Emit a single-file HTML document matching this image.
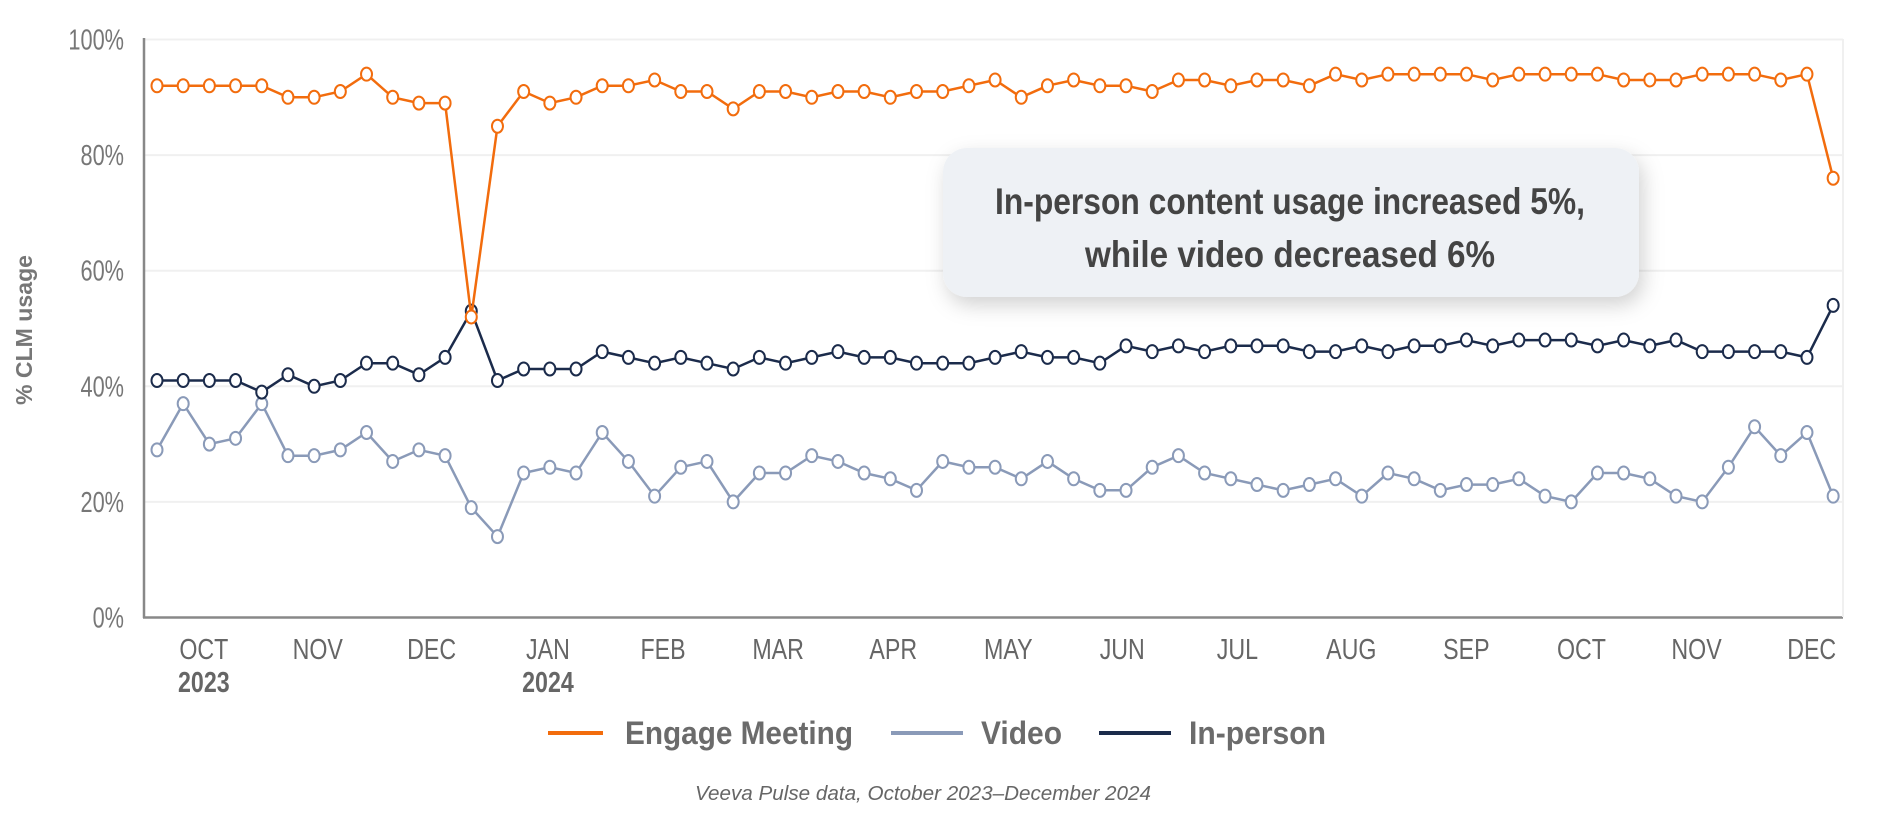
<!DOCTYPE html>
<html><head><meta charset="utf-8"><style>
html,body{margin:0;padding:0;background:#fff;width:1880px;height:817px;overflow:hidden}
svg text{font-family:"Liberation Sans Narrow","Liberation Sans",sans-serif}
</style></head><body>
<svg id="s" width="1880" height="817" viewBox="0 0 1880 817" xmlns="http://www.w3.org/2000/svg">
<defs><filter id="sh" x="-20%" y="-30%" width="140%" height="170%"><feDropShadow dx="4" dy="8" stdDeviation="10" flood-color="#000" flood-opacity="0.18"/></filter></defs>
<g id="grid"></g>
<line x1="144" y1="38" x2="144" y2="618" stroke="#888" stroke-width="2.5"/>
<line x1="143" y1="617.5" x2="1843" y2="617.5" stroke="#888" stroke-width="2.5"/>
<line x1="1843" y1="39" x2="1843" y2="617" stroke="#f0f0f0" stroke-width="2"/>
<g id="series"></g>
<rect x="943" y="148" width="696" height="149" rx="24" fill="#eef1f5" filter="url(#sh)"/>
<text x="1290" y="214" text-anchor="middle" font-size="37" font-weight="bold" fill="#444" textLength="590" lengthAdjust="spacingAndGlyphs">In-person content usage increased 5%,</text>
<text x="1290" y="267" text-anchor="middle" font-size="37" font-weight="bold" fill="#444" textLength="410" lengthAdjust="spacingAndGlyphs">while video decreased 6%</text>
<text transform="translate(32,330) rotate(-90)" text-anchor="middle" font-size="23" font-weight="bold" fill="#777" textLength="150" lengthAdjust="spacingAndGlyphs">% CLM usage</text>
<g id="lab"></g>
<line x1="548" y1="733" x2="603" y2="733" stroke="#f26c0d" stroke-width="4"/>
<text x="625" y="744" font-size="32" font-weight="bold" fill="#6b6b6b" textLength="228" lengthAdjust="spacingAndGlyphs">Engage Meeting</text>
<line x1="891" y1="733" x2="963" y2="733" stroke="#8a9ab8" stroke-width="4"/>
<text x="981" y="744" font-size="32" font-weight="bold" fill="#6b6b6b" textLength="81" lengthAdjust="spacingAndGlyphs">Video</text>
<line x1="1099" y1="733" x2="1171" y2="733" stroke="#1b2b4b" stroke-width="4"/>
<text x="1189" y="744" font-size="32" font-weight="bold" fill="#6b6b6b" textLength="137" lengthAdjust="spacingAndGlyphs">In-person</text>
<text x="923" y="800" text-anchor="middle" font-size="20" font-style="italic" fill="#666" textLength="456" lengthAdjust="spacingAndGlyphs">Veeva Pulse data, October 2023–December 2024</text>
</svg>
<script>
var NS="http://www.w3.org/2000/svg";
function el(p,t,a,txt){var e=document.createElementNS(NS,t);for(var k in a)e.setAttribute(k,a[k]);if(txt)e.textContent=txt;p.appendChild(e);return e;}
function cond(e,f){var w=e.getComputedTextLength();e.setAttribute('textLength',(w*f).toFixed(1));e.setAttribute('lengthAdjust','spacingAndGlyphs');}
var Y=function(v){return 617.5-v*5.78;};
var g=document.getElementById('grid'),lab=document.getElementById('lab');
for(var i=1;i<=5;i++){el(g,'line',{x1:145,x2:1843,y1:Y(i*20),y2:Y(i*20),stroke:'#f0f0f0','stroke-width':2});}
for(var i=0;i<=5;i++){var t=el(lab,'text',{x:124,y:Y(i*20)+10,'text-anchor':'end','font-size':29,fill:'#777'},(i*20)+'%');cond(t,0.75);}
var months=[['OCT',170],['NOV',265],['DEC',360],['JAN',457],['FEB',553],['MAR',649],['APR',745],['MAY',841],['JUN',936],['JUL',1032],['AUG',1127],['SEP',1223],['OCT',1319],['NOV',1415],['DEC',1511]];
months.forEach(function(m){var t=el(lab,'text',{x:m[1]*1.199,y:659,'text-anchor':'middle','font-size':29,fill:'#666'},m[0]);cond(t,0.8);});
var a=el(lab,'text',{x:170*1.199,y:692,'text-anchor':'middle','font-size':29,'font-weight':'bold',fill:'#666'},'2023');cond(a,0.8);
var b=el(lab,'text',{x:457*1.199,y:692,'text-anchor':'middle','font-size':29,'font-weight':'bold',fill:'#666'},'2024');cond(b,0.8);
var eng=[92,92,92,92,92,90,90,91,94,90,89,89,52,85,91,89,90,92,92,93,91,91,88,91,91,90,91,91,90,91,91,92,93,90,92,93,92,92,91,93,93,92,93,93,92,94,93,94,94,94,94,93,94,94,94,94,93,93,93,94,94,94,93,94,76];
var vid=[29,37,30,31,37,28,28,29,32,27,29,28,19,14,25,26,25,32,27,21,26,27,20,25,25,28,27,25,24,22,27,26,26,24,27,24,22,22,26,28,25,24,23,22,23,24,21,25,24,22,23,23,24,21,20,25,25,24,21,20,26,33,28,32,21];
var inp=[41,41,41,41,39,42,40,41,44,44,42,45,53,41,43,43,43,46,45,44,45,44,43,45,44,45,46,45,45,44,44,44,45,46,45,45,44,47,46,47,46,47,47,47,46,46,47,46,47,47,48,47,48,48,48,47,48,47,48,46,46,46,46,45,54];
var sg=document.getElementById('series');
function X(i){return 157+i*26.19;}
function draw(d,c){var p=d.map(function(v,i){return X(i).toFixed(1)+','+Y(v).toFixed(1);}).join(' ');
el(sg,'polyline',{points:p,fill:'none',stroke:c,'stroke-width':2.5});
d.forEach(function(v,i){el(sg,'ellipse',{cx:X(i),cy:Y(v),rx:5.5,ry:6.5,fill:'#fff',stroke:c,'stroke-width':2});});}
draw(vid,'#8a9ab8');draw(inp,'#1b2b4b');draw(eng,'#f26c0d');
</script>
</body></html>
